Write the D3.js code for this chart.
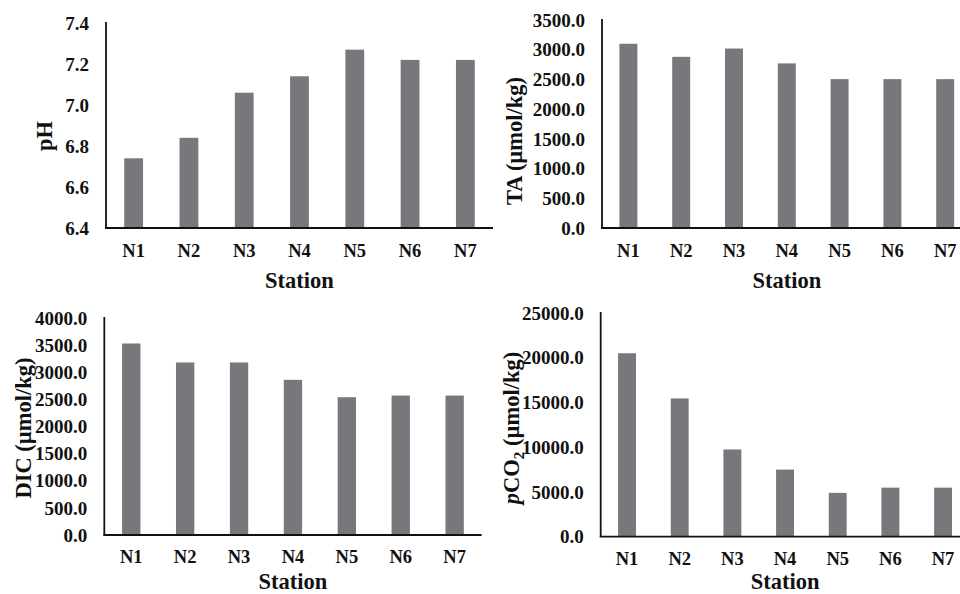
<!DOCTYPE html>
<html>
<head>
<meta charset="utf-8">
<script src="https://cdn.jsdelivr.net/npm/d3@7"></script>
<style>
  html, body { margin: 0; padding: 0; background: #fff; }
  svg text { font-family: "Liberation Serif", "Times New Roman", serif; font-weight: bold; fill: #111; }
</style>
</head>
<body>
<div id="chart"></div>
<script>
// station names on the x axis
const stations = ["N1", "N2", "N3", "N4", "N5", "N6", "N7"];

// values
const phValues   = [6.74, 6.84, 7.06, 7.14, 7.27, 7.22, 7.22];
const taValues   = [3100, 2880, 3020, 2770, 2505, 2505, 2505];
const dicValues  = [3530, 3180, 3180, 2860, 2540, 2570, 2570];
const pco2Values = [20500, 15450, 9750, 7500, 4900, 5480, 5480];

// tick labels
const phTicks   = [6.4, 6.6, 6.8, 7.0, 7.2, 7.4];
const taTicks   = [0, 500, 1000, 1500, 2000, 2500, 3000, 3500];
const dicTicks  = [0, 500, 1000, 1500, 2000, 2500, 3000, 3500, 4000];
const pco2Ticks = [0, 5000, 10000, 15000, 20000, 25000];

const W = 960, H = 594;
const barColor = "#77787c";

const svg = d3.select("#chart").append("svg")
  .attr("width", W)
  .attr("height", H);

// one panel per variable, layout only
const panels = [
  { values: phValues, ticks: phTicks, fmt: d3.format(".1f"),
    left: 106, right: 493, top: 23, bottom: 228,
    tickGap: 29, stationGap: 60, titleX: 52, titleY: 136, title: "pH" },
  { values: taValues, ticks: taTicks, fmt: d3.format(".1f"),
    left: 602, right: 971.6, top: 20, bottom: 228,
    tickGap: 29, stationGap: 60, titleX: 522, titleY: 141, title: "TA (µmol/kg)" },
  { values: dicValues, ticks: dicTicks, fmt: d3.format(".1f"),
    left: 104.3, right: 481.6, top: 318, bottom: 535,
    tickGap: 28, stationGap: 54, titleX: 31, titleY: 428, title: "DIC (µmol/kg)" },
  { values: pco2Values, ticks: pco2Ticks, fmt: d3.format(".1f"),
    left: 600.7, right: 969.4, top: 313, bottom: 536.7,
    tickGap: 28, stationGap: 52, titleX: 519, titleY: 428, title: "pCO2" }
];

panels.forEach(p => {
  const x = d3.scaleBand()
    .domain(stations)
    .range([p.left, p.right])
    .paddingInner(0.66)
    .paddingOuter(0.33);

  const y = d3.scaleLinear()
    .domain(d3.extent(p.ticks))
    .range([p.bottom, p.top]);

  const g = svg.append("g");

  // bars
  g.selectAll("rect.bar")
    .data(p.values)
    .enter()
    .append("rect")
    .attr("class", "bar")
    .attr("x", (_, i) => x(stations[i]))
    .attr("width", x.bandwidth())
    .attr("y", d => y(d))
    .attr("height", d => y(y.domain()[0]) - y(d))
    .attr("fill", barColor);

  // y tick labels, no tick marks
  g.selectAll("text.ytick")
    .data(p.ticks)
    .enter()
    .append("text")
    .attr("class", "ytick")
    .attr("x", p.left - 17)
    .attr("y", d => y(d))
    .attr("dy", "0.35em")
    .attr("text-anchor", "end")
    .style("font-size", "19px")
    .text(d => p.fmt(d));

  // x labels
  g.selectAll("text.xtick")
    .data(stations)
    .enter()
    .append("text")
    .attr("class", "xtick")
    .attr("x", d => x(d) + x.bandwidth() / 2)
    .attr("y", p.bottom + p.tickGap)
    .attr("text-anchor", "middle")
    .style("font-size", "18.5px")
    .text(d => d);

  // axis lines
  g.append("line")
    .attr("x1", p.left).attr("x2", p.left)
    .attr("y1", p.top - 1).attr("y2", p.bottom)
    .attr("stroke", "#111").attr("stroke-width", 1.8);
  g.append("line")
    .attr("x1", p.left - 1).attr("x2", p.right)
    .attr("y1", p.bottom).attr("y2", p.bottom)
    .attr("stroke", "#111").attr("stroke-width", 1.8);

  // x title
  g.append("text")
    .attr("x", (p.left + p.right) / 2)
    .attr("y", p.bottom + p.stationGap)
    .attr("text-anchor", "middle")
    .style("font-size", "22.5px")
    .text("Station");

  // y title
  const t = g.append("text")
    .attr("transform", `translate(${p.titleX},${p.titleY}) rotate(-90)`)
    .attr("text-anchor", "middle")
    .style("font-size", "22.5px");
  if (p.title === "pCO2") {
    t.append("tspan").style("font-style", "italic").text("p");
    t.append("tspan").text("CO");
    t.append("tspan").attr("dy", 5).style("font-size", "15px").text("2");
    t.append("tspan").attr("dy", -5).text(" (µmol/kg)");
  } else {
    t.text(p.title);
  }
});
</script>
</body>
</html>
